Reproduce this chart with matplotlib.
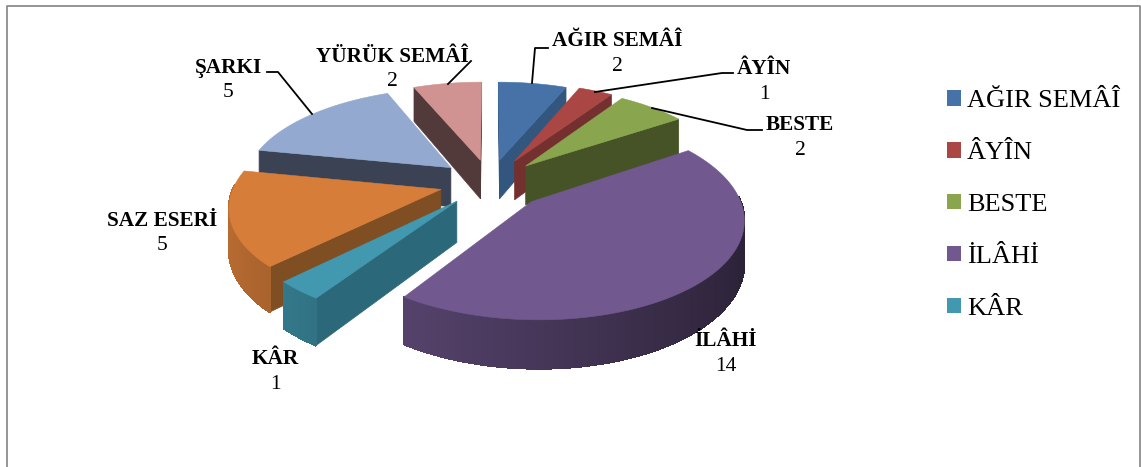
import numpy as np
import matplotlib
matplotlib.use("Agg")
import matplotlib.pyplot as plt
from matplotlib.patches import Polygon, Patch

categories = ["AĞIR SEMÂÎ", "ÂYÎN", "BESTE", "İLÂHİ", "KÂR", "SAZ ESERİ", "ŞARKI", "YÜRÜK SEMÂÎ"]
values = [2, 1, 2, 14, 1, 5, 5, 2]

top_colors = ["#4672A8", "#AA4643", "#89A54E", "#71588F", "#4198AF", "#D67D39", "#93A9CF", "#D19392"]
side_colors = ["#33567F", "#74302E", "#465326", "#3F3050", "#2B6879", "#7F4E22", "#3B4254", "#533A3A"]
explode = [0.235, 0.25, 0.24, 0.263, 0.235, 0.235, 0.24, 0.235]
radius = [0.965, 0.965, 0.965, 0.94, 0.955, 0.953, 0.96, 0.965]

label_pos = [(617, 41.5), (764, 69.5), (800, 125.5), (726, 341.5), (275, 359.5), (162, 220.5), (228, 67.5), (392, 56.5)]
leaders = [
    [(532, 83), (535, 48), (548, 48)],
    [(595, 92), (722, 73), (733, 73)],
    [(652, 108), (747, 130), (762, 130)],
    None,
    None,
    None,
    [(312, 114), (278, 72), (267, 72)],
    [(448, 84), (471, 61)],
]

# projection of the tilted pie, in pixels
CX, CY = 490, 182.5
A, B, DEPTH = 216, 100, 40
PERSP = 0.16


def project(x, y, z=0.0):
    s = 1 / (1 + PERSP * y)
    return CX + A * x * s, CY - B * y * s + DEPTH * z * s


def signed_area(pts):
    pts = np.array(pts)
    x, y = pts[:, 0], pts[:, 1]
    return np.sum(x * np.roll(y, -1) - np.roll(x, -1) * y)


def shade(color, f):
    rgb = np.array(matplotlib.colors.to_rgb(color))
    return tuple(rgb * f)


plt.rcParams["font.family"] = ["Liberation Serif", "DejaVu Serif"]
fig = plt.figure(figsize=(11.41, 4.67), dpi=100)
ax = fig.add_axes([0, 0, 1, 1])
ax.set_xlim(0, 1141)
ax.set_ylim(467, 0)
ax.axis("off")

ax.plot([6.5, 6.5, 1140, 1140], [467, 5.5, 5.5, 467], color="#8C8C8C", lw=1.3)

edges = np.concatenate([[0], np.cumsum(values)]) / np.sum(values) * 2 * np.pi
slices = []
for i in range(len(values)):
    mid = (edges[i] + edges[i + 1]) / 2
    slices.append((np.cos(mid), i, mid))

# far slices first so near ones paint over them
for _, i, mid in sorted(slices, key=lambda t: -t[0]):
    ox, oy = explode[i] * np.sin(mid), explode[i] * np.cos(mid)
    th = np.linspace(edges[i], edges[i + 1], max(6, int(values[i] * 30)))
    rim_x = ox + radius[i] * np.sin(th)
    rim_y = oy + radius[i] * np.cos(th)

    apex_t, apex_b = project(ox, oy), project(ox, oy, 1)
    for end, sign in ((0, -1), (-1, 1)):
        quad = [apex_t, project(rim_x[end], rim_y[end]), project(rim_x[end], rim_y[end], 1), apex_b]
        if signed_area(quad) * sign > 0:
            ax.add_patch(Polygon(quad, closed=True, fc=side_colors[i], ec=side_colors[i], lw=0.5))

    for k in range(len(th) - 1):
        if np.cos((th[k] + th[k + 1]) / 2) < 0.05:
            strip = [project(rim_x[k], rim_y[k]), project(rim_x[k + 1], rim_y[k + 1]),
                     project(rim_x[k + 1], rim_y[k + 1], 1), project(rim_x[k], rim_y[k], 1)]
            col = shade(top_colors[i], 0.62 - 0.24 * np.sin(th[k]))
            ax.add_patch(Polygon(strip, closed=True, fc=col, ec=col, lw=0.8, antialiased=False))

    top = [apex_t] + [project(a, b) for a, b in zip(rim_x, rim_y)]
    ax.add_patch(Polygon(top, closed=True, fc=top_colors[i], ec=top_colors[i], lw=0.4))

for name, val, (x, y), line in zip(categories, values, label_pos, leaders):
    ax.text(x, y, name, fontsize=15.3, fontweight="bold", ha="center", va="center", color="black")
    ax.text(x, y + 25, str(val), fontsize=15.5, ha="center", va="center", color="black")
    if line:
        ax.plot(*zip(*line), color="black", lw=1.3)

handles = [Patch(fc=c, ec="none") for c in top_colors[:5]]
ax.legend(handles, categories[:5], loc="upper left", bbox_to_anchor=(947, 90),
          bbox_transform=ax.transData, frameon=False, fontsize=19, handlelength=0.53,
          handleheight=0.53, handletextpad=0.23, labelspacing=1.13, borderpad=0, borderaxespad=0)

fig.savefig("out.png", dpi=100)
